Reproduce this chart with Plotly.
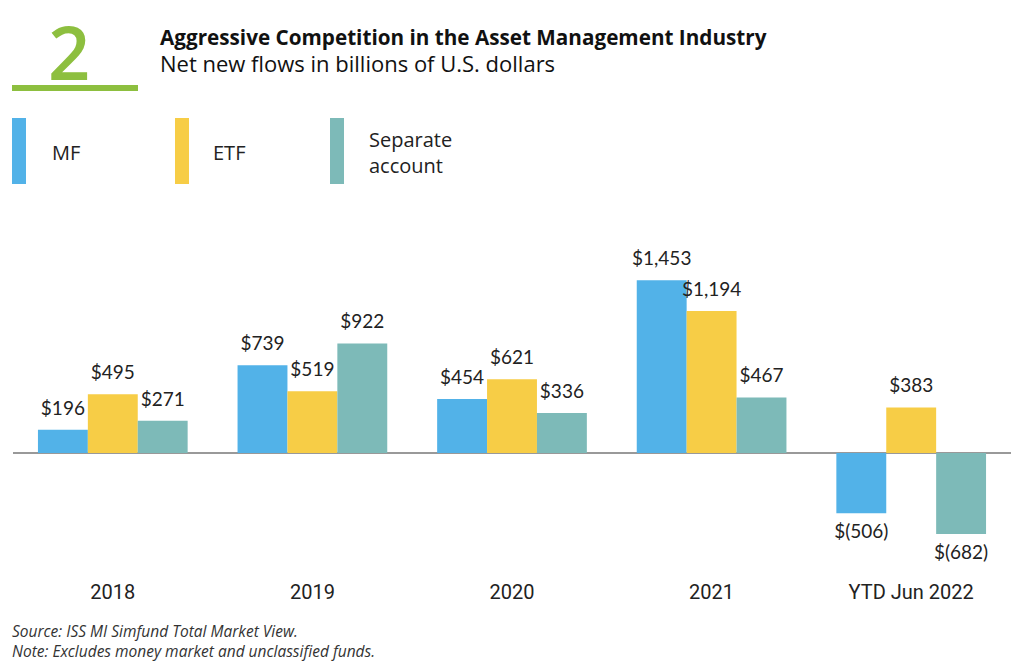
import plotly.graph_objects as go

categories = ["2018", "2019", "2020", "2021", "YTD Jun 2022"]
mf = [196, 739, 454, 1453, -506]
etf = [495, 519, 621, 1194, 383]
sep = [271, 922, 336, 467, -682]
series_names = ["MF", "ETF", "Separate account"]
legend_labels = ["MF", "ETF", "Separate<br>account"]
colors = ["#52B2E8", "#F7CD46", "#7DBAB8"]
title = "Aggressive Competition in the Asset Management Industry"
subtitle = "Net new flows in billions of U.S. dollars"

OFF = 8  # page body margin
W, H = 1024 - OFF, 669 - OFF
L, R, T, B = 13 - OFF, W - (1011 - OFF), 220 - OFF, H - (560 - OFF)
PW, PH = W - L - R, H - T - B

def px(x):
    return (x - OFF - L) / PW

def py(y):
    return (H - B - (y - OFF)) / PH

def fmt(v):
    return f"${v:,}" if v >= 0 else f"$({abs(v):,})"

NUMFONT = "Lato"
FONT = "Open Sans"
fig = go.Figure()
for i, (name, vals, col) in enumerate(zip(series_names, [mf, etf, sep], colors)):
    fig.add_trace(go.Bar(
        x=categories, y=vals, name=name, offsetgroup=str(i),
        marker=dict(color=col, line=dict(width=0)),
        hoverinfo="skip",
    ))
for i, vals in enumerate([mf, etf, sep]):
    fig.add_trace(go.Scatter(
        x=categories, y=vals, mode="markers+text", offsetgroup=str(i),
        marker=dict(size=15, color="rgba(0,0,0,0)"),
        text=[fmt(v) for v in vals],
        textposition=["top center" if v >= 0 else "bottom center" for v in vals],
        textfont=dict(size=19, color="#222222", family=NUMFONT),
        cliponaxis=False, hoverinfo="skip", showlegend=False,
    ))

shapes = []
annotations = []
annotations.append(dict(text="2", x=px(69), y=py(51), xref="paper", yref="paper",
                        showarrow=False, font=dict(size=74, color="#8DBF3F", family=FONT, weight=600),
                        xanchor="center", yanchor="middle", height=80))
shapes.append(dict(type="rect", xref="paper", yref="paper", x0=px(12), x1=px(138),
                   y0=py(91), y1=py(85), fillcolor="#8DBF3F", line=dict(width=0)))
annotations.append(dict(text=f"<b>{title}</b><br><span style='font-size:22px'>{subtitle}</span>",
                        x=px(158), y=py(50), xref="paper", yref="paper", showarrow=False,
                        xanchor="left", yanchor="middle", align="left",
                        font=dict(size=20.7, color="#111111", family=FONT)))
leg_x = [12, 175, 330]
txt_x = [50, 211, 367]
for lx, tx, lab, col in zip(leg_x, txt_x, legend_labels, colors):
    shapes.append(dict(type="rect", xref="paper", yref="paper", x0=px(lx), x1=px(lx + 14),
                       y0=py(184), y1=py(118), fillcolor=col, line=dict(width=0)))
    annotations.append(dict(text=lab, x=px(tx), y=py(152), xref="paper", yref="paper",
                            showarrow=False, xanchor="left", yanchor="middle", align="left",
                            font=dict(size=20, color="#222222", family=FONT)))
annotations.append(dict(text="<i>Source: ISS MI Simfund Total Market View.</i><br><i>Note: Excludes money market and unclassified funds.</i>",
                        x=px(10), y=py(641), xref="paper", yref="paper", showarrow=False,
                        xanchor="left", yanchor="middle", align="left",
                        font=dict(size=15.5, color="#333333", family=FONT)))

fig.update_layout(
    width=W, height=H, margin=dict(l=L, r=R, t=T, b=B),
    paper_bgcolor="white", plot_bgcolor="white",
    barmode="group", bargap=0.25, bargroupgap=0,
    scattermode="group", scattergap=0.25,
    showlegend=False, shapes=shapes, annotations=annotations,
    font=dict(family=FONT),
)
fig.update_xaxes(range=[-0.5, 4.5], showgrid=False, showline=False, ticks="",
                 tickfont=dict(size=20, color="#222222", family="Roboto"), ticklabelstandoff=18)
fig.update_yaxes(range=[-900, 1960], showgrid=False, showticklabels=False,
                 zeroline=True, zerolinecolor="#999999", zerolinewidth=2)
fig.write_html("out.html")
